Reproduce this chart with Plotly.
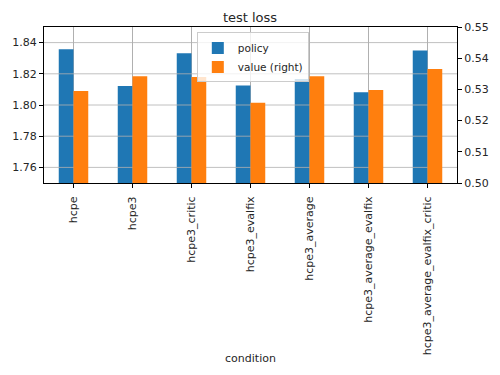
import plotly.graph_objects as go

conditions = ["hcpe", "hcpe3", "hcpe3_critic", "hcpe3_evalfix", "hcpe3_average",
              "hcpe3_average_evalfix", "hcpe3_average_evalfix_critic"]
policy = [1.8357, 1.8121, 1.8331, 1.8125, 1.8166, 1.8082, 1.8349]
value = [0.5295, 0.5342, 0.5340, 0.5257, 0.5342, 0.5298, 0.5365]

left_ticks = [1.76, 1.78, 1.80, 1.82, 1.84]
right_ticks = [0.50, 0.51, 0.52, 0.53, 0.54, 0.55]
left_range = [1.75, 1.85]
right_range = [0.50, 0.55]

idx = list(range(len(conditions)))
font = "DejaVu Sans, Arial, sans-serif"

fig = go.Figure()
fig.add_trace(go.Bar(x=idx, y=policy, name="policy", marker_color="#1f77b4",
                     marker_line_width=0, width=0.25, offset=-0.25, yaxis="y"))

# horizontal grid lines of left axis, drawn over policy bars, under value bars
gx, gy = [], []
for t in left_ticks:
    gx += [-0.5, len(conditions) - 0.5, None]
    gy += [t, t, None]
fig.add_trace(go.Scatter(x=gx, y=gy, mode="lines", line=dict(color="#b0b0b0", width=0.8),
                         showlegend=False, hoverinfo="skip", yaxis="y"))

fig.add_trace(go.Bar(x=idx, y=value, name="value (right)", marker_color="#ff7f0e",
                     marker_line_width=0, width=0.25, offset=0, yaxis="y2"))

fig.update_layout(
    width=500, height=375,
    margin=dict(l=44, r=43, t=27, b=192),
    paper_bgcolor="white", plot_bgcolor="white",
    font=dict(family=font, size=11, color="#262626"),
    title=dict(text="test loss", x=0.5, xanchor="center", y=1 - 17 / 375, yanchor="middle",
               font=dict(size=13, color="#262626")),
    barmode="overlay",
    showlegend=True,
    legend=dict(x=0.37, y=0.965, xanchor="left", yanchor="top",
                bgcolor="rgba(255,255,255,0.8)", bordercolor="#cccccc", borderwidth=1,
                font=dict(size=10.5), tracegroupgap=0, itemwidth=30),
    xaxis=dict(range=[-0.5, len(conditions) - 0.5], tickvals=idx, ticktext=conditions,
               tickangle=-90, showgrid=True, gridcolor="#b0b0b0", gridwidth=0.8,
               showline=True, linecolor="black", linewidth=1, mirror=True,
               ticks="outside", ticklen=4, tickcolor="black", zeroline=False,
               ticklabelstandoff=4, automargin=False,
               title=dict(text="condition", font=dict(size=11), standoff=0)),
    yaxis=dict(range=left_range, tickvals=left_ticks, ticktext=[f"{t:.2f}" for t in left_ticks],
               showgrid=False, showline=True, linecolor="black", linewidth=1,
               ticks="outside", ticklen=4, tickcolor="black", zeroline=False,
               automargin=False),
    yaxis2=dict(range=right_range, tickvals=right_ticks, ticktext=[f"{t:.2f}" for t in right_ticks],
                overlaying="y", side="right", showgrid=False, showline=True,
                linecolor="black", linewidth=1, ticks="outside", ticklen=4,
                tickcolor="black", zeroline=False, automargin=False),
)

fig.write_html("out.html", config={"displayModeBar": False},
               post_script="document.body.style.margin='0';")
